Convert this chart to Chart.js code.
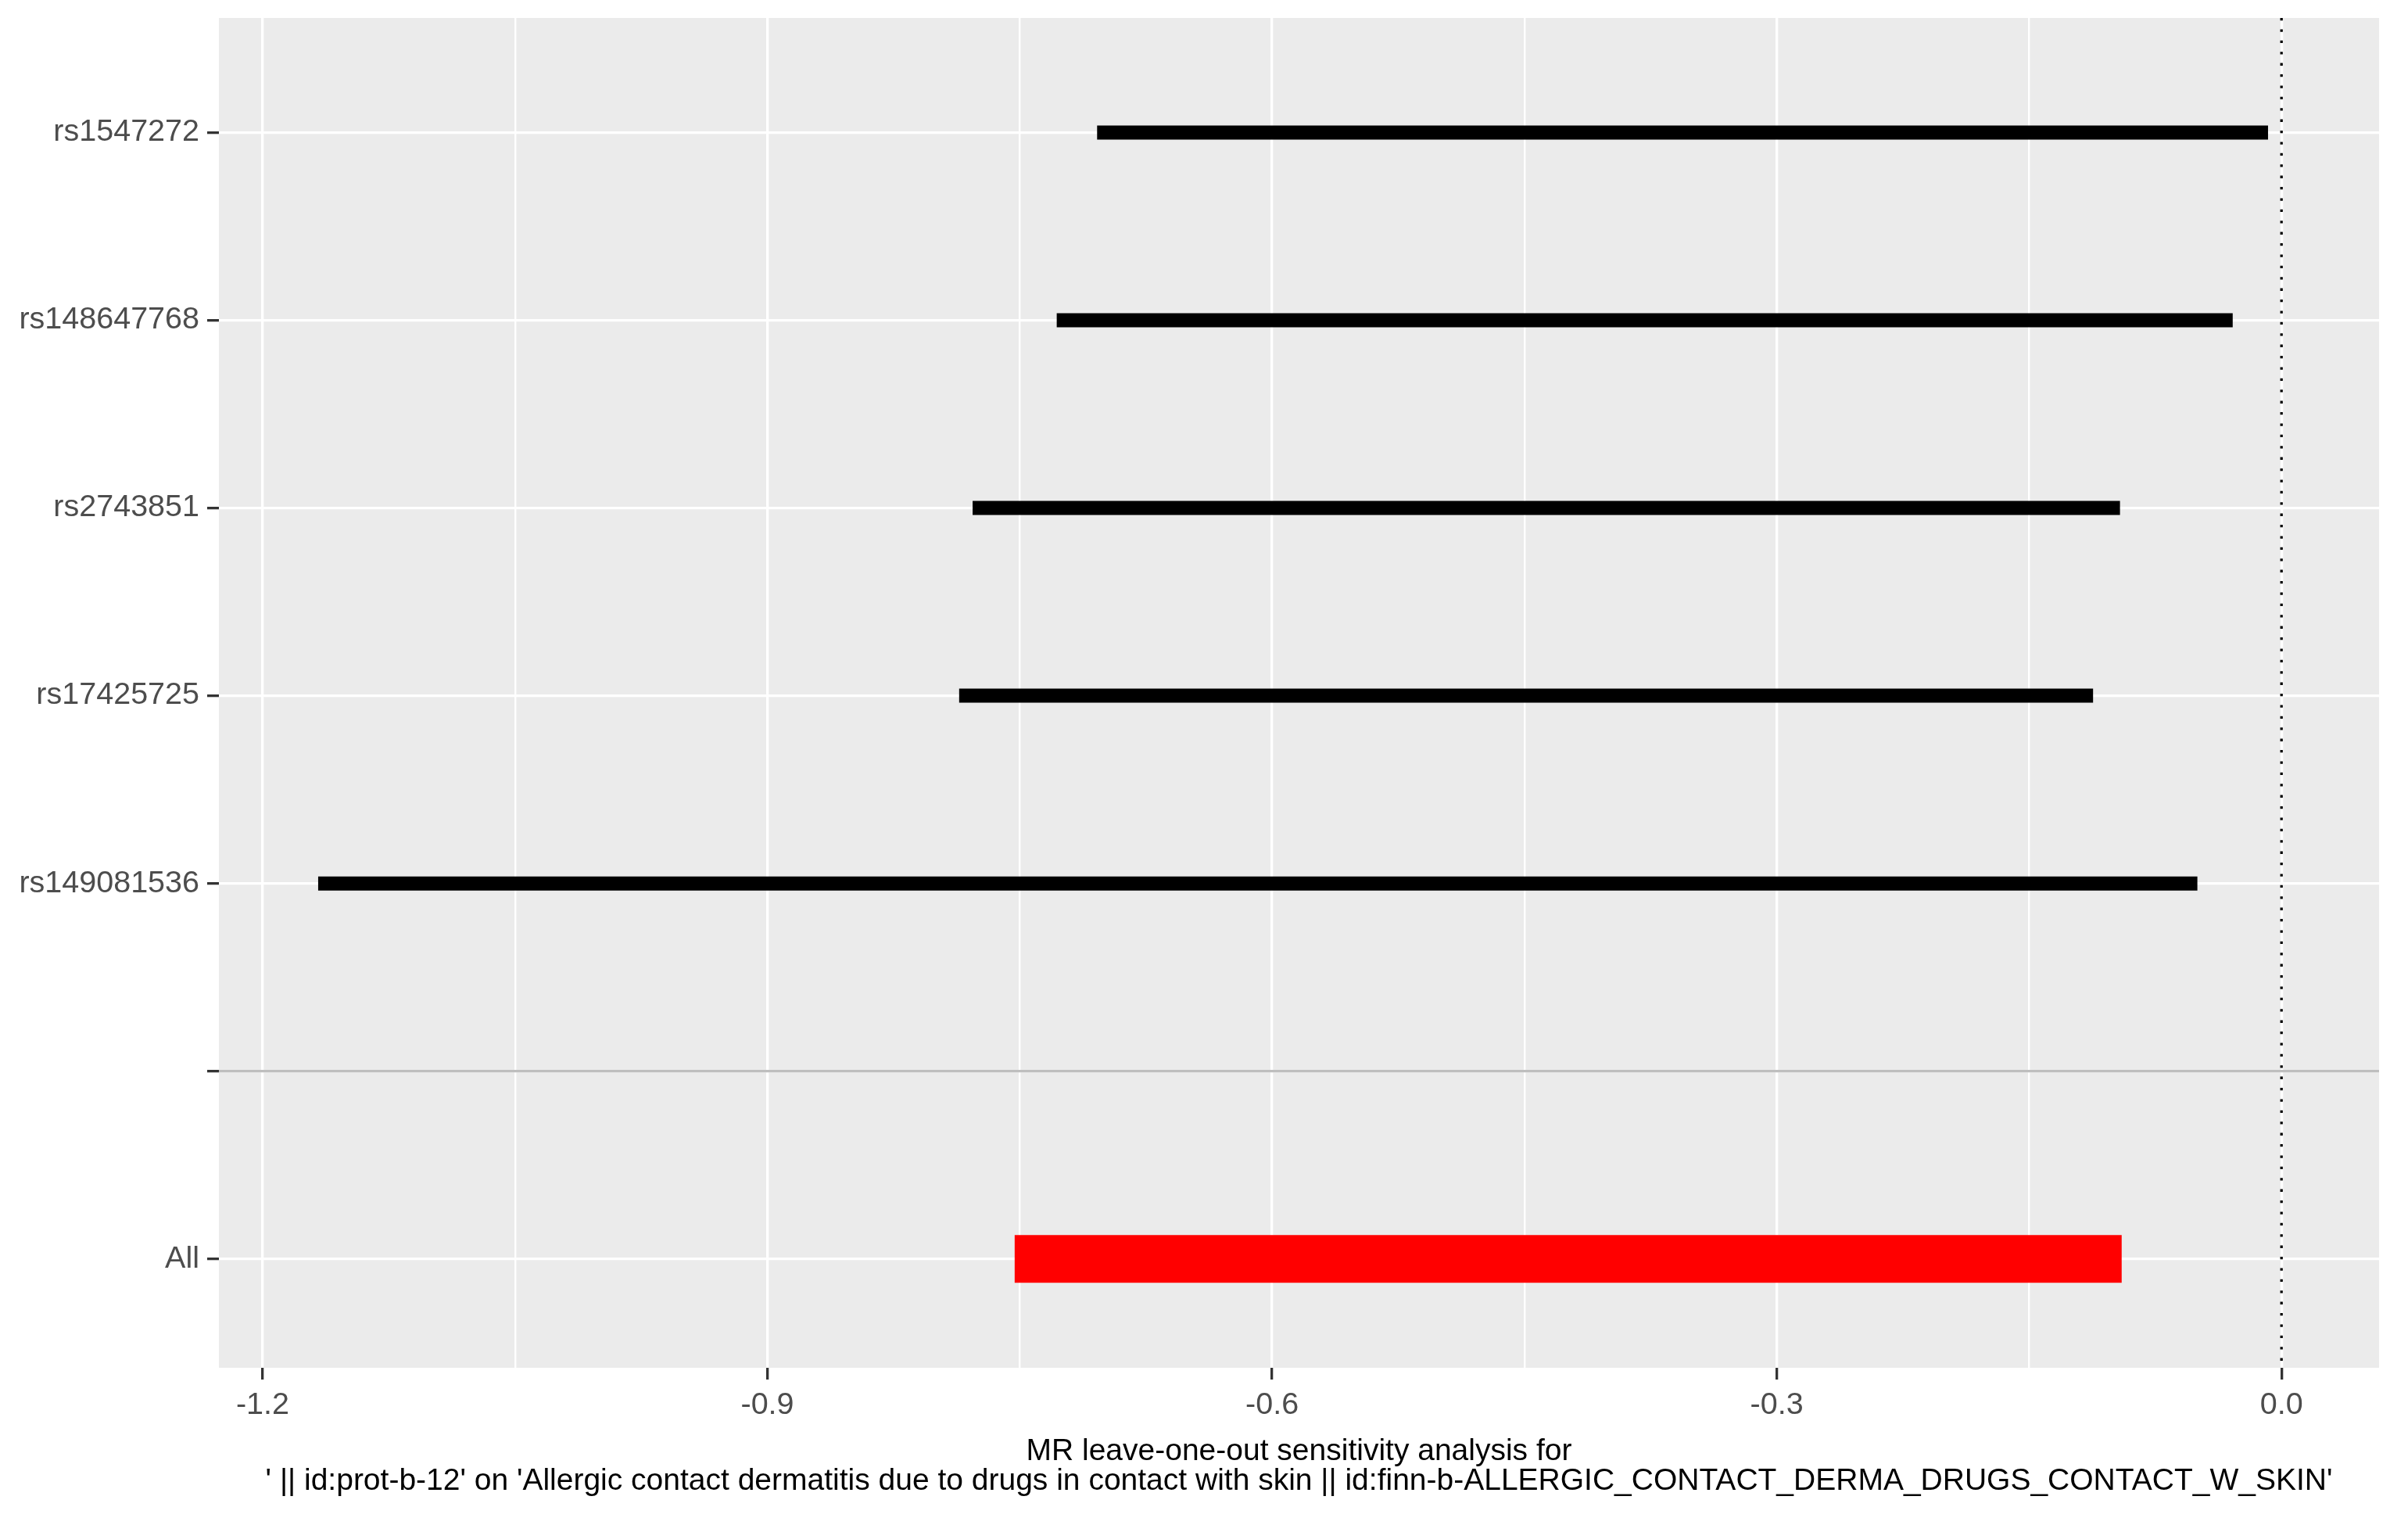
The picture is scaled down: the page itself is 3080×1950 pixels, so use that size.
<!DOCTYPE html>
<html><head><meta charset="utf-8">
<script src="https://cdn.jsdelivr.net/npm/chart.js@4.4.1/dist/chart.umd.min.js"></script>
<style>html,body{margin:0;padding:0;background:#fff}canvas{display:block}</style>
</head><body>
<canvas id="c" width="3080" height="1950"></canvas>
<script>
// ---- data ----
const categories = ['rs1547272', 'rs148647768', 'rs2743851', 'rs17425725', 'rs149081536', '', 'All'];
const snps = ['rs1547272', 'rs148647768', 'rs2743851', 'rs17425725', 'rs149081536'];
const snpLower = [-0.704, -0.728, -0.778, -0.786, -1.167];
const snpUpper = [-0.008, -0.029, -0.096, -0.112, -0.050];
const allLabels = ['All'];
const allLower = [-0.753];
const allUpper = [-0.095];
const separatorLabel = '';
const xMajorTicks = [-1.2, -0.9, -0.6, -0.3, 0.0];
const xMinorTicks = [-1.05, -0.75, -0.45, -0.15];
const xLimits = [-1.226, 0.058];
const yLimits = [0.39, 7.58];
const refLineX = 0;
const xTitle = [
  "MR leave-one-out sensitivity analysis for",
  "' || id:prot-b-12' on 'Allergic contact dermatitis due to drugs in contact with skin || id:finn-b-ALLERGIC_CONTACT_DERMA_DRUGS_CONTACT_W_SKIN'"
];

// ---- helpers ----
const pos = label => categories.indexOf(label) + 1;
const FONT = "'Liberation Sans', Arial, sans-serif";

const panelPlugin = {
  id: 'panel',
  beforeDraw(chart) {
    const {ctx, chartArea: a} = chart;
    ctx.save();
    ctx.fillStyle = '#ffffff';
    ctx.fillRect(0, 0, chart.width, chart.height);
    ctx.fillStyle = '#EBEBEB';
    ctx.fillRect(a.left, a.top, a.right - a.left, a.bottom - a.top);
    ctx.restore();
  },
  beforeDatasetsDraw(chart) {
    const {ctx, chartArea: a, scales} = chart;
    const x = scales.x.getPixelForValue(refLineX);
    ctx.save();
    ctx.strokeStyle = '#000000';
    ctx.lineWidth = 3.3;
    ctx.setLineDash([3.3, 11.1]);
    ctx.beginPath();
    ctx.moveTo(x, a.top);
    ctx.lineTo(x, a.bottom);
    ctx.stroke();
    ctx.restore();
  },
  afterDatasetsDraw(chart) {
    const {ctx, chartArea: a, scales} = chart;
    const y = scales.y.getPixelForValue(pos(separatorLabel));
    ctx.save();
    ctx.strokeStyle = '#BEBEBE';
    ctx.lineWidth = 3.3;
    ctx.beginPath();
    ctx.moveTo(a.left, y);
    ctx.lineTo(a.right, y);
    ctx.stroke();
    ctx.restore();
  }
};

new Chart(document.getElementById('c'), {
  type: 'bar',
  data: {
    datasets: [
      {
        label: 'SNPs',
        data: snps.map((s, i) => ({y: pos(s), x: [snpLower[i], snpUpper[i]]})),
        backgroundColor: '#000000',
        borderWidth: 0,
        grouped: false,
        maxBarThickness: 18,
        borderSkipped: false
      },
      {
        label: 'All',
        data: allLabels.map((s, i) => ({y: pos(s), x: [allLower[i], allUpper[i]]})),
        backgroundColor: '#FF0000',
        borderWidth: 0,
        grouped: false,
        maxBarThickness: 61,
        borderSkipped: false
      }
    ]
  },
  options: {
    indexAxis: 'y',
    responsive: false,
    animation: false,
    devicePixelRatio: 1,
    layout: {padding: {left: 0, right: 37, top: 23, bottom: 0}},
    plugins: {legend: {display: false}, tooltip: {enabled: false}},
    scales: {
      x: {
        type: 'linear',
        min: xLimits[0],
        max: xLimits[1],
        offset: false,
        border: {display: false},
        afterBuildTicks(scale) {
          const t = xMajorTicks.map(v => ({value: v, isMinor: false}))
            .concat(xMinorTicks.map(v => ({value: v, isMinor: true})));
          t.sort((a, b) => a.value - b.value);
          scale.ticks = t;
        },
        afterFit(scale) {
          scale.height = 201;
          scale.paddingLeft = 0;
          scale.paddingRight = 0;
        },
        grid: {
          offset: false,
          color: '#FFFFFF',
          lineWidth: ctx => (ctx.tick && ctx.tick.isMinor) ? 2.4 : 3.3,
          drawTicks: true,
          tickLength: 15,
          tickWidth: 3.3,
          tickColor: ctx => (ctx.tick && ctx.tick.isMinor) ? 'rgba(0,0,0,0)' : '#333333'
        },
        ticks: {
          autoSkip: false,
          maxRotation: 0,
          padding: 9,
          color: '#4D4D4D',
          font: {family: FONT, size: 39.5},
          callback: (v, i, ticks) => ticks[i].isMinor ? '' : Number(v).toFixed(1)
        },
        title: {
          display: true,
          text: xTitle,
          color: '#000000',
          font: {family: FONT, size: 39, lineHeight: 0.97},
          padding: {top: 0, bottom: 37}
        }
      },
      y: {
        type: 'linear',
        reverse: true,
        min: yLimits[0],
        max: yLimits[1],
        offset: false,
        border: {display: false},
        afterBuildTicks(scale) {
          scale.ticks = categories.map((c, i) => ({value: i + 1}));
        },
        afterFit(scale) {
          scale.width = 280;
          scale.paddingTop = 0;
          scale.paddingBottom = 0;
        },
        grid: {
          offset: false,
          color: '#FFFFFF',
          lineWidth: 3.3,
          drawTicks: true,
          tickLength: 15,
          tickWidth: 3.3,
          tickColor: '#333333'
        },
        ticks: {
          autoSkip: false,
          padding: 10,
          color: '#4D4D4D',
          font: {family: FONT, size: 39.5},
          callback: v => categories[Math.round(v) - 1]
        }
      }
    }
  },
  plugins: [panelPlugin]
});
</script>
</body></html>
